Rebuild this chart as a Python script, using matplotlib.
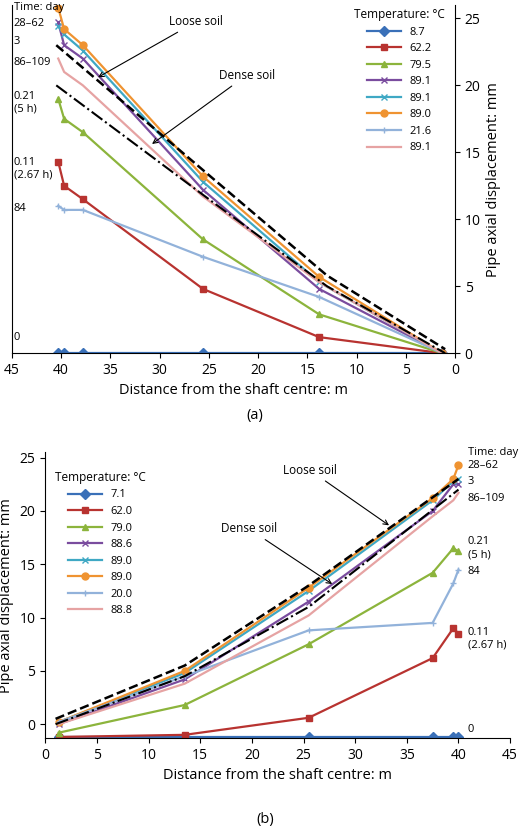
import matplotlib.pyplot as plt

# ---- panel (a) data ----
xa = [40.3, 39.7, 37.8, 25.6, 13.8, 1.3]
temps_a = ["8.7", "62.2", "79.5", "89.1", "89.1", "89.0", "21.6", "89.1"]
ya = [
    [0, 0, 0, 0, 0, 0],
    [14.3, 12.5, 11.5, 4.8, 1.2, 0],
    [19.0, 17.5, 16.5, 8.5, 2.9, 0],
    [24.7, 23.0, 22.0, 12.2, 4.8, 0],
    [24.4, 23.8, 22.6, 12.8, 5.3, 0],
    [25.8, 24.2, 23.0, 13.2, 5.7, 0],
    [11.0, 10.7, 10.7, 7.2, 4.2, 0],
    [22.0, 21.0, 20.0, 11.7, 5.3, 0],
]
loose_a_x = [40.5, 25.0, 13.0, 1.0]
loose_a_y = [23.0, 13.3, 5.8, 0.3]
dense_a_x = [40.5, 25.0, 13.0, 1.0]
dense_a_y = [20.0, 11.5, 5.0, 0.0]
labels_a = [("Time: day", 25.8), ("28–62", 24.6), ("3", 23.3), ("86–109", 21.7),
            ("0.21\n(5 h)", 18.7), ("0.11\n(2.67 h)", 13.8), ("84", 10.8), ("0", 1.2)]

# ---- panel (b) data ----
xb = [1.3, 13.5, 25.5, 37.5, 39.5, 40.0]
temps_b = ["7.1", "62.0", "79.0", "88.6", "89.0", "89.0", "20.0", "88.8"]
yb = [
    [-1.2, -1.2, -1.2, -1.2, -1.2, -1.2],
    [-1.2, -1.0, 0.6, 6.2, 9.0, 8.5],
    [-0.8, 1.8, 7.5, 14.2, 16.5, 16.2],
    [0.0, 4.2, 11.5, 20.0, 22.5, 22.5],
    [0.2, 4.8, 12.5, 21.0, 22.8, 23.0],
    [0.2, 5.0, 12.8, 21.2, 23.0, 24.3],
    [0.2, 4.5, 8.8, 9.5, 13.2, 14.5],
    [0.0, 3.8, 10.2, 19.5, 21.0, 21.7],
]
loose_b_x = [1.0, 13.5, 25.5, 40.0]
loose_b_y = [0.5, 5.5, 13.0, 23.0]
dense_b_x = [1.0, 13.5, 25.5, 40.0]
dense_b_y = [0.0, 4.5, 11.0, 22.0]
labels_b = [("Time: day", 25.5), ("28–62", 24.3), ("3", 22.8), ("86–109", 21.2),
            ("0.21\n(5 h)", 16.5), ("84", 14.3), ("0.11\n(2.67 h)", 8.0), ("0", -0.5)]

colors = ["#3a70b8", "#b83330", "#8cb43c", "#7a4c9e", "#3fa8c4", "#ef9331", "#92b2da", "#e6a3a3"]
markers = ["D", "s", "^", "x", "x", "o", "+", None]

plt.rcParams['font.family'] = ['Open Sans', 'DejaVu Sans']
fig = plt.figure(figsize=(5.2, 8.33), dpi=100)

# panel (a)
ax = fig.add_axes([0.023, 0.576, 0.852, 0.418])
for i in range(len(temps_a)):
    ax.plot(xa, ya[i], color=colors[i], marker=markers[i], markersize=5, lw=1.6, label=temps_a[i])
ax.plot(loose_a_x, loose_a_y, 'k--', lw=1.8)
ax.plot(dense_a_x, dense_a_y, 'k-.', lw=1.5)
ax.set_xlim(45, 0)
ax.set_ylim(0, 26)
ax.yaxis.tick_right()
ax.yaxis.set_label_position("right")
ax.set_xticks(range(45, -1, -5))
ax.set_yticks(range(0, 26, 5))
ax.set_xlabel("Distance from the shaft centre: m", fontsize=10.5)
ax.set_ylabel("Pipe axial displacement: mm", fontsize=10.5)
ax.tick_params(labelsize=10)
ax.spines["top"].set_visible(False)
ax.legend(title="Temperature: °C", frameon=False, fontsize=8, title_fontsize=8.5,
          loc="upper right", bbox_to_anchor=(1.0, 1.02), handlelength=3)
for txt, yv in labels_a:
    ax.text(44.8, yv, txt, fontsize=8, va="center", ha="left")
ax.annotate("Loose soil", xy=(36.5, 20.5), xytext=(29, 24.5), fontsize=8.5,
            arrowprops=dict(arrowstyle="->", lw=0.8))
ax.annotate("Dense soil", xy=(31, 15.5), xytext=(24, 20.5), fontsize=8.5,
            arrowprops=dict(arrowstyle="->", lw=0.8))
fig.text(0.49, 0.497, "(a)", fontsize=10.5, ha="center")

# panel (b)
bx = fig.add_axes([0.087, 0.114, 0.894, 0.343])
for i in range(len(temps_b)):
    bx.plot(xb, yb[i], color=colors[i], marker=markers[i], markersize=5, lw=1.6, label=temps_b[i])
bx.plot(loose_b_x, loose_b_y, 'k--', lw=1.8)
bx.plot(dense_b_x, dense_b_y, 'k-.', lw=1.5)
bx.set_xlim(0, 45)
bx.set_ylim(-1.3, 25.5)
bx.set_xticks(range(0, 46, 5))
bx.set_yticks(range(0, 26, 5))
bx.set_xlabel("Distance from the shaft centre: m", fontsize=10.5)
bx.set_ylabel("Pipe axial displacement: mm", fontsize=10.5)
bx.tick_params(labelsize=10)
bx.spines["top"].set_visible(False)
bx.spines["right"].set_visible(False)
bx.legend(title="Temperature: °C", frameon=False, fontsize=8, title_fontsize=8.5,
          loc="upper left", bbox_to_anchor=(0.0, 0.97), handlelength=3)
for txt, yv in labels_b:
    bx.text(40.9, yv, txt, fontsize=8, va="center", ha="left")
bx.annotate("Loose soil", xy=(33.5, 18.5), xytext=(23, 23.5), fontsize=8.5,
            arrowprops=dict(arrowstyle="->", lw=0.8))
bx.annotate("Dense soil", xy=(28, 13.0), xytext=(17, 18.0), fontsize=8.5,
            arrowprops=dict(arrowstyle="->", lw=0.8))
fig.text(0.51, 0.012, "(b)", fontsize=10.5, ha="center")

fig.savefig("out.png", dpi=100)
